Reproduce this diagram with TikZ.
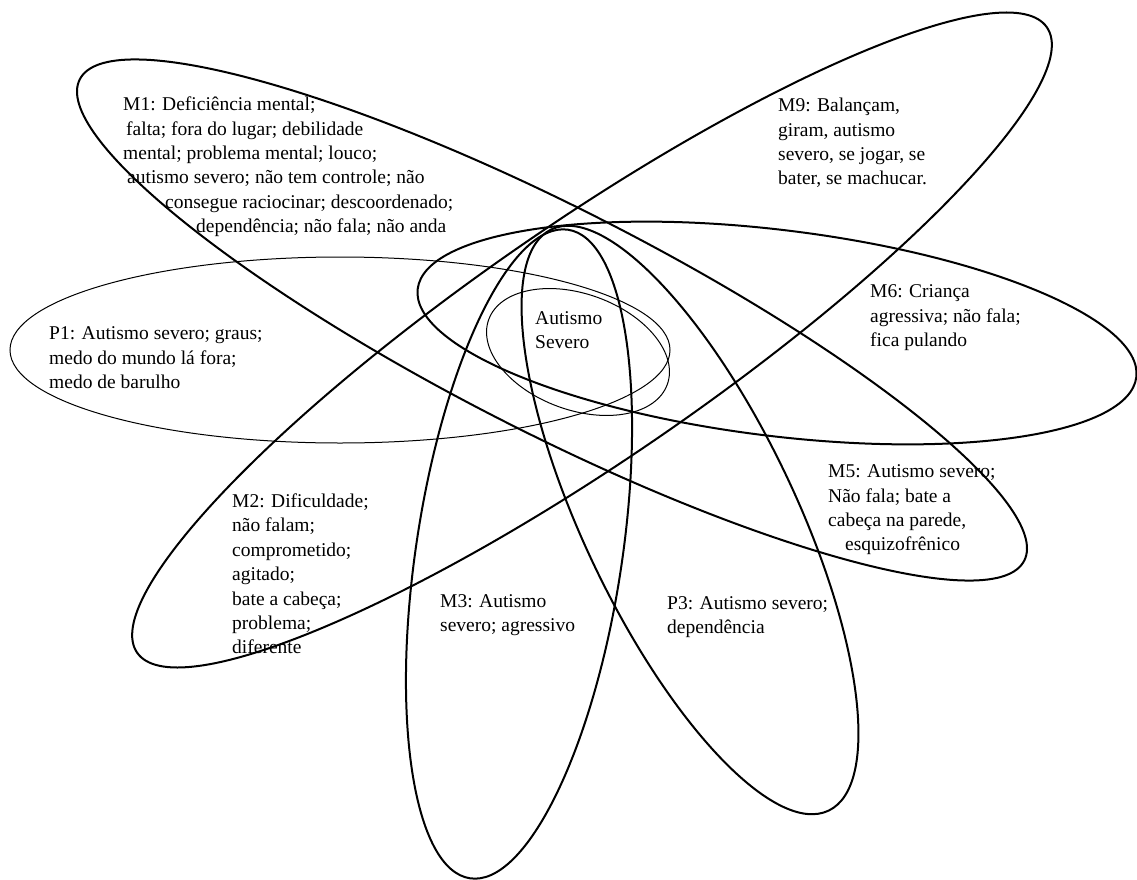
\documentclass[tikz,border=0pt]{standalone}
\usepackage{fontspec}
\setmainfont{Liberation Serif}
\tikzset{
    petal/.style={draw=black, line width=2pt},
    thinpetal/.style={draw=black, line width=1pt},
    lbl/.style={font=\fontsize{19.5}{24.4}\selectfont, align=left, anchor=west, inner sep=0pt},
}
\begin{document}
\begin{tikzpicture}[x=1pt, y=-1pt]
    \useasboundingbox (0,0) rectangle (1137,880);

    % petals (centre, radii, rotation)
    \foreach \cx/\cy/\rx/\ry/\ang in {552/320/530/112/-27, 592/340/552/118/34.5,
            519/554/328/103/-98.6, 690/520/322/106/-64.5, 777/333/362/103/-7} {
        \draw[petal, rotate around={\ang:(\cx,\cy)}] (\cx,\cy) ellipse (\rx pt and \ry pt);
    }
    \draw[thinpetal] (340,350) ellipse (330pt and 93pt);
    \draw[thinpetal, rotate around={-20:(578,352)}] (578,352) ellipse (95pt and 58pt);

    % labels
    \node[lbl] (centro) at (535,330) {Autismo\\Severo};
    \node[lbl] (m1) at (123,167) {M1: Deficiência mental;\\\hspace*{3pt}falta; fora do lugar; debilidade\\mental; problema mental; louco;\\\hspace*{4pt}autismo severo; não tem controle; não\\\hspace*{42pt}consegue raciocinar; descoordenado;\\\hspace*{73pt}dependência; não fala; não anda};
    \node[lbl] (p1) at (49,358) {P1: Autismo severo; graus;\\medo do mundo lá fora;\\medo de barulho};
    \node[lbl] (m2) at (232,574) {M2: Dificuldade;\\não falam;\\comprometido;\\agitado;\\bate a cabeça;\\problema;\\diferente};
    \node[lbl] (m3) at (440,615) {M3: Autismo\\severo; agressivo};
    \node[lbl] (p3) at (667,617) {P3: Autismo severo;\\dependência};
    \node[lbl] (m5) at (828,510) {M5: Autismo severo;\\Não fala; bate a\\cabeça na parede,\\\hspace*{17pt}esquizofrênico};
    \node[lbl] (m9) at (778,143) {M9: Balançam,\\giram, autismo\\severo, se jogar, se\\bater, se machucar.};
    \node[lbl] (m6) at (870,318) {M6: Criança\\agressiva; não fala;\\fica pulando};
\end{tikzpicture}
\end{document}
